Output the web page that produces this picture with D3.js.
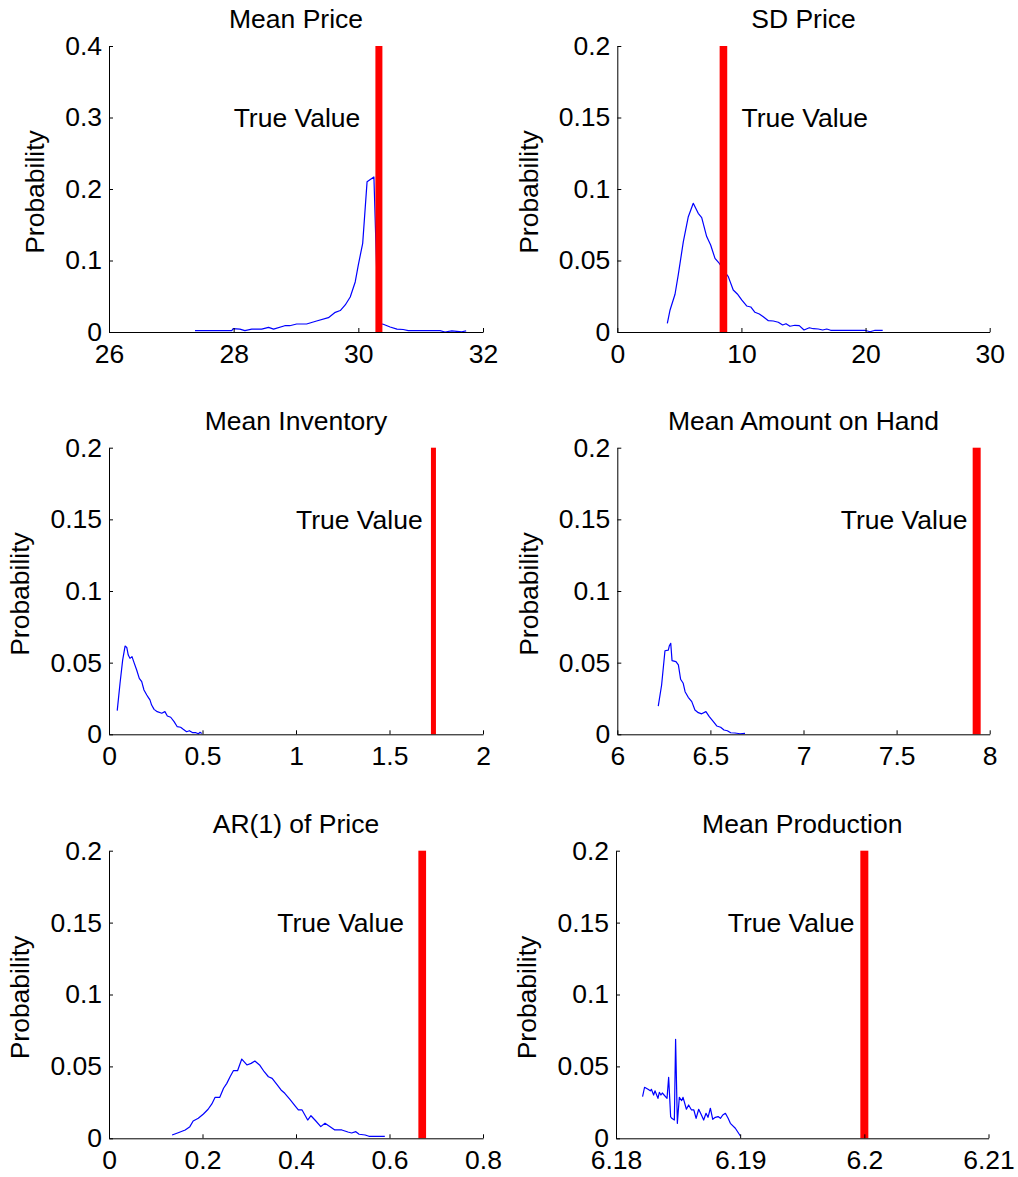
<!DOCTYPE html>
<html>
<head>
<meta charset="utf-8">
<script src="https://cdn.jsdelivr.net/npm/d3@7"></script>
<style>
  html, body { margin: 0; padding: 0; background: #fff; }
  svg { display: block; }
  text { font-family: 'Liberation Sans', Arial, Helvetica, sans-serif; fill: #000; }
</style>
</head>
<body>
<div id="chart"></div>
<script>
// ---- simulated distributions of each statistic (x = statistic value, y = probability) ----
const titles = ["Mean Price", "SD Price", "Mean Inventory", "Mean Amount on Hand", "AR(1) of Price", "Mean Production"];

const meanPriceX = [27.38, 27.97, 27.99, 28.10, 28.18, 28.29, 28.45, 28.56, 28.64, 28.82, 28.90, 29.01, 29.17, 29.33, 29.52, 29.63, 29.71, 29.79, 29.87, 29.95, 30.00, 30.07, 30.14, 30.25, 30.32, 30.40, 30.51, 30.62, 30.72, 30.80, 31.31, 31.39, 31.50, 31.58, 31.66, 31.73];
const meanPriceY = [0.002, 0.002, 0.0046, 0.004, 0.002, 0.004, 0.004, 0.0065, 0.004, 0.0088, 0.0088, 0.0112, 0.0112, 0.0154, 0.020, 0.0275, 0.030, 0.0378, 0.049, 0.070, 0.094, 0.124, 0.210, 0.2168, 0.012, 0.0108, 0.007, 0.004, 0.0035, 0.002, 0.002, 0.000, 0.0015, 0.001, 0.0003, 0.0015];

const sdPriceX = [4.03, 4.25, 4.65, 4.91, 5.32, 5.72, 6.12, 6.52, 6.80, 7.20, 7.52, 7.87, 8.22, 8.58, 8.94, 9.34, 9.67, 10.02, 10.42, 10.75, 11.09, 11.44, 11.76, 12.17, 12.57, 12.97, 13.32, 13.59, 13.91, 14.31, 14.66, 15.04, 15.47, 15.79, 16.19, 16.55, 16.87, 17.19, 18.48, 19.95, 20.36, 20.76, 21.38];
const sdPriceY = [0.0061, 0.0154, 0.0264, 0.0399, 0.0632, 0.0806, 0.0900, 0.0830, 0.0800, 0.0667, 0.0608, 0.0515, 0.0480, 0.0430, 0.0387, 0.0294, 0.0266, 0.0224, 0.0182, 0.0175, 0.0138, 0.0126, 0.0107, 0.0079, 0.0077, 0.0068, 0.0049, 0.0058, 0.0040, 0.0047, 0.0045, 0.0014, 0.0030, 0.0023, 0.0021, 0.0014, 0.0021, 0.0012, 0.0012, 0.0012, 0.0002, 0.0012, 0.0012];

const meanInvX = [0.044, 0.059, 0.073, 0.086, 0.095, 0.103, 0.112, 0.123, 0.134, 0.148, 0.162, 0.175, 0.187, 0.202, 0.210, 0.219, 0.228, 0.241, 0.258, 0.282, 0.299, 0.312, 0.330, 0.348, 0.365, 0.383, 0.397, 0.415, 0.430, 0.448, 0.465, 0.478, 0.487, 0.496];
const meanInvY = [0.0165, 0.0356, 0.0518, 0.0616, 0.0606, 0.0553, 0.0530, 0.0542, 0.0500, 0.0449, 0.0390, 0.0367, 0.0309, 0.0274, 0.0258, 0.0240, 0.0204, 0.0174, 0.0158, 0.0147, 0.0158, 0.0128, 0.0119, 0.0088, 0.0053, 0.0049, 0.0035, 0.0018, 0.0025, 0.0011, 0.0011, 0.0004, 0.0014, 0.0006];

const onHandX = [6.220, 6.238, 6.256, 6.274, 6.279, 6.287, 6.294, 6.315, 6.328, 6.340, 6.354, 6.364, 6.381, 6.400, 6.417, 6.435, 6.453, 6.476, 6.494, 6.516, 6.534, 6.555, 6.573, 6.591, 6.609, 6.632, 6.659, 6.686];
const onHandY = [0.0197, 0.0344, 0.0583, 0.0588, 0.0616, 0.0635, 0.0514, 0.0507, 0.0484, 0.0384, 0.0356, 0.0297, 0.0258, 0.0228, 0.0170, 0.0151, 0.0143, 0.0158, 0.0123, 0.0088, 0.0058, 0.0049, 0.0030, 0.0025, 0.0011, 0.0009, 0.0004, 0.0006];

const ar1X = [0.135, 0.148, 0.163, 0.173, 0.180, 0.191, 0.202, 0.212, 0.220, 0.227, 0.237, 0.245, 0.252, 0.259, 0.266, 0.275, 0.284, 0.295, 0.304, 0.312, 0.322, 0.332, 0.341, 0.349, 0.359, 0.368, 0.376, 0.387, 0.398, 0.405, 0.413, 0.425, 0.432, 0.442, 0.453, 0.462, 0.473, 0.483, 0.498, 0.511, 0.519, 0.528, 0.535, 0.548, 0.556, 0.590];
const ar1Y = [0.0023, 0.0039, 0.0058, 0.0081, 0.0120, 0.0139, 0.0169, 0.0202, 0.0239, 0.0285, 0.0285, 0.0348, 0.0382, 0.0428, 0.0470, 0.0470, 0.0551, 0.0510, 0.0521, 0.0537, 0.0510, 0.0463, 0.0428, 0.0417, 0.0375, 0.0336, 0.0313, 0.0271, 0.0225, 0.0197, 0.0197, 0.0127, 0.0157, 0.0122, 0.0081, 0.0104, 0.0081, 0.0058, 0.0058, 0.0044, 0.0037, 0.0046, 0.0028, 0.0023, 0.0014, 0.0014];

const prodX = [6.18214, 6.18230, 6.18258, 6.18276, 6.18285, 6.18303, 6.18314, 6.18338, 6.18349, 6.18362, 6.18373, 6.18411, 6.18424, 6.18440, 6.18449, 6.18470, 6.18480, 6.18494, 6.18510, 6.18529, 6.18540, 6.18567, 6.18585, 6.18608, 6.18627, 6.18645, 6.18666, 6.18688, 6.18706, 6.18725, 6.18741, 6.18760, 6.18779, 6.18800, 6.18822, 6.18841, 6.18860, 6.18881, 6.18903, 6.18921, 6.18961, 6.19002];
const prodY = [0.0289, 0.0355, 0.0341, 0.0330, 0.0341, 0.0301, 0.0330, 0.0278, 0.0320, 0.0301, 0.0315, 0.0278, 0.0424, 0.0150, 0.0139, 0.0127, 0.0688, 0.0104, 0.0285, 0.0262, 0.0285, 0.0202, 0.0232, 0.0197, 0.0197, 0.0139, 0.0202, 0.0162, 0.0127, 0.0174, 0.0146, 0.0209, 0.0132, 0.0146, 0.0151, 0.0139, 0.0162, 0.0174, 0.0139, 0.0104, 0.0070, 0.0016];

// true parameter value of each statistic and where its label sits (data units)
const trueValues = [30.33, 8.55, 1.735, 7.93, 0.670, 6.200];
const trueLabelX = [28.0, 10.0, 1.0, 7.2, 0.36, 6.189];
const trueLabelY = [0.3, 0.15, 0.15, 0.15, 0.15, 0.15];

// axis limits and ticks
const xDomains = [[26, 32], [0, 30], [0, 2], [6, 8], [0, 0.8], [6.18, 6.21]];
const yDomains = [[0, 0.4], [0, 0.2], [0, 0.2], [0, 0.2], [0, 0.2], [0, 0.2]];
const xTicks = [[26, 28, 30, 32], [0, 10, 20, 30], [0, 0.5, 1, 1.5, 2], [6, 6.5, 7, 7.5, 8], [0, 0.2, 0.4, 0.6, 0.8], [6.18, 6.19, 6.2, 6.21]];
const xTickLabels = [["26", "28", "30", "32"], ["0", "10", "20", "30"], ["0", "0.5", "1", "1.5", "2"], ["6", "6.5", "7", "7.5", "8"], ["0", "0.2", "0.4", "0.6", "0.8"], ["6.18", "6.19", "6.2", "6.21"]];
const yTicks = [[0, 0.1, 0.2, 0.3, 0.4], [0, 0.05, 0.1, 0.15, 0.2], [0, 0.05, 0.1, 0.15, 0.2], [0, 0.05, 0.1, 0.15, 0.2], [0, 0.05, 0.1, 0.15, 0.2], [0, 0.05, 0.1, 0.15, 0.2]];
const yTickLabels = [["0", "0.1", "0.2", "0.3", "0.4"], ["0", "0.05", "0.1", "0.15", "0.2"], ["0", "0.05", "0.1", "0.15", "0.2"], ["0", "0.05", "0.1", "0.15", "0.2"], ["0", "0.05", "0.1", "0.15", "0.2"], ["0", "0.05", "0.1", "0.15", "0.2"]];

const seriesX = [meanPriceX, sdPriceX, meanInvX, onHandX, ar1X, prodX];
const seriesY = [meanPriceY, sdPriceY, meanInvY, onHandY, ar1Y, prodY];

// ---- layout ----
const W = 1018, H = 1177;
const FS = 26.5;
const boxes = [
  { l: 109, r: 483, t: 46, b: 332 },
  { l: 617.3, r: 989.7, t: 46, b: 332 },
  { l: 109, r: 483, t: 447.7, b: 734.3 },
  { l: 617.3, r: 989.7, t: 447.7, b: 734.3 },
  { l: 109, r: 483, t: 850.7, b: 1138.3 },
  { l: 616, r: 988.5, t: 850.7, b: 1138.3 }
];
const barWidths = [7, 7.6, 5, 8, 7.7, 8];

const svg = d3.select("#chart").append("svg")
  .attr("width", W).attr("height", H)
  .attr("viewBox", `0 0 ${W} ${H}`);

svg.append("rect").attr("width", W).attr("height", H).attr("fill", "#fff");

titles.forEach((title, i) => {
  const bx = boxes[i];
  const x = d3.scaleLinear().domain(xDomains[i]).range([bx.l, bx.r]);
  const y = d3.scaleLinear().domain(yDomains[i]).range([bx.b, bx.t]);
  const g = svg.append("g");

  // distribution curve
  const pts = seriesX[i].map((v, k) => [v, seriesY[i][k]]);
  g.append("path")
    .datum(pts)
    .attr("fill", "none")
    .attr("stroke", "#0000ff")
    .attr("stroke-width", 1.2)
    .attr("stroke-linejoin", "round")
    .attr("d", d3.line().x(d => x(d[0])).y(d => y(d[1])));

  // true value bar spanning the full y range
  const bw = barWidths[i];
  g.append("rect")
    .attr("x", x(trueValues[i]) - bw / 2)
    .attr("y", y(yDomains[i][1]))
    .attr("width", bw)
    .attr("height", y(yDomains[i][0]) - y(yDomains[i][1]))
    .attr("fill", "#ff0000");

  g.append("text")
    .attr("x", x(trueLabelX[i]))
    .attr("y", y(trueLabelY[i]))
    .attr("dy", "0.36em")
    .attr("font-size", FS)
    .text("True Value");

  // axes: inward ticks, left and bottom only
  const xAxis = d3.axisBottom(x)
    .tickValues(xTicks[i])
    .tickFormat((d, k) => xTickLabels[i][k])
    .tickSizeInner(-4).tickSizeOuter(0).tickPadding(12);
  const yAxis = d3.axisLeft(y)
    .tickValues(yTicks[i])
    .tickFormat((d, k) => yTickLabels[i][k])
    .tickSizeInner(-4).tickSizeOuter(0).tickPadding(7);

  const gx = g.append("g").attr("transform", `translate(0,${bx.b})`).call(xAxis);
  const gy = g.append("g").attr("transform", `translate(${bx.l},0)`).call(yAxis);
  [gx, gy].forEach(a => {
    a.selectAll("text").attr("font-size", FS).attr("font-family", null).style("fill", "#000");
    a.selectAll("path, line").attr("stroke", "#000").attr("stroke-width", 1);
    a.attr("font-family", null).attr("font-size", null);
  });

  // y label placed left of the widest tick label
  let minLeft = Infinity;
  gy.selectAll(".tick text").each(function () {
    const bb = this.getBBox();
    minLeft = Math.min(minLeft, bx.l + bb.x);
  });
  const cy = (bx.t + bx.b) / 2 + 3;
  g.append("text")
    .attr("transform", `translate(${minLeft - 21},${cy}) rotate(-90)`)
    .attr("text-anchor", "middle")
    .attr("font-size", FS)
    .text("Probability");

  g.append("text")
    .attr("x", (bx.l + bx.r) / 2)
    .attr("y", bx.t - 18)
    .attr("text-anchor", "middle")
    .attr("font-size", FS)
    .text(title);
});
</script>
</body>
</html>
